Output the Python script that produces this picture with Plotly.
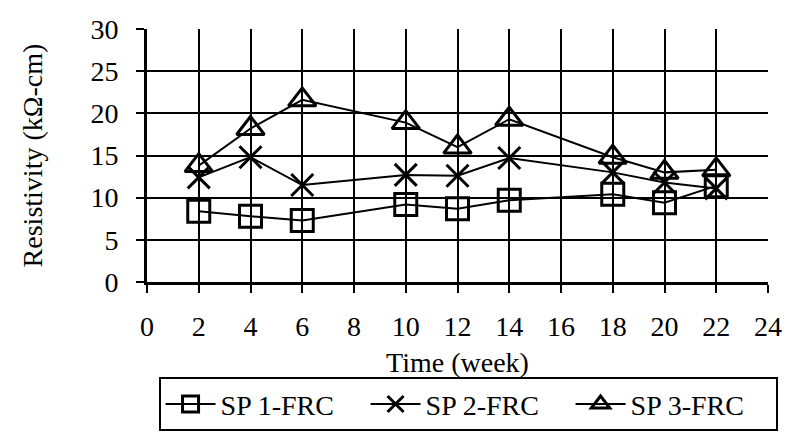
import plotly.graph_objects as go

weeks = [2, 4, 6, 10, 12, 14, 18, 20, 22]
sp1 = [8.4, 7.8, 7.3, 9.2, 8.7, 9.7, 10.4, 9.4, 11.4]
sp2 = [12.4, 14.8, 11.5, 12.7, 12.6, 14.7, 13.0, 11.8, 11.1]
sp3 = [13.8, 18.2, 21.6, 18.9, 16.0, 19.3, 14.8, 13.0, 13.3]
names = ["SP 1-FRC", "SP 2-FRC", "SP 3-FRC"]
x_ticks = list(range(0, 25, 2))
y_ticks = list(range(0, 31, 5))

FONT = "Liberation Serif, Times New Roman, serif"
symbols = ["square-open", "x-thin-open", "triangle-up-open"]
sizes = [22, 22, 24]

fig = go.Figure()
for name, ys, sym, sz in zip(names, [sp1, sp2, sp3], symbols, sizes):
    fig.add_trace(go.Scatter(
        x=weeks, y=ys, name=name, mode="lines+markers",
        line=dict(color="black", width=2),
        marker=dict(symbol=sym, size=sz, color="black",
                    line=dict(color="black", width=3)),
    ))

fig.update_layout(
    width=793, height=444,
    margin=dict(l=147, r=25, t=29, b=160),
    paper_bgcolor="white", plot_bgcolor="white",
    font=dict(family=FONT, size=28, color="black"),
    showlegend=True,
    legend=dict(orientation="h", x=0.517, xanchor="center", y=-0.59, yanchor="bottom",
                bordercolor="black", borderwidth=2, font=dict(size=28),
                itemwidth=50, entrywidth=140, tracegroupgap=0),
)
fig.update_xaxes(
    range=[0, 24], tickvals=x_ticks, ticktext=[str(v) for v in x_ticks],
    showgrid=True, gridcolor="black", gridwidth=2,
    showline=True, linecolor="black", linewidth=3,
    ticks="outside", ticklen=8, tickwidth=2, tickcolor="black",
    ticklabelstandoff=9, ticklabeloverflow="allow",
    zeroline=False, mirror=False, automargin=False,
    title=dict(text="Time (week)", standoff=12, font=dict(size=28)),
)
fig.update_yaxes(
    range=[0, 30], tickvals=y_ticks, ticktext=[str(v) for v in y_ticks],
    showgrid=True, gridcolor="black", gridwidth=2,
    showline=True, linecolor="black", linewidth=3,
    ticks="outside", ticklen=8, tickwidth=2, tickcolor="black",
    ticklabelstandoff=12, ticklabeloverflow="allow",
    zeroline=False, automargin=False,
    title=dict(text="Resistivity (kΩ-cm)", standoff=40, font=dict(size=28)),
)
fig.write_html(
    "out.html",
    config={"displayModeBar": False},
    post_script="document.body.style.margin='0';document.body.style.overflow='hidden';",
)
